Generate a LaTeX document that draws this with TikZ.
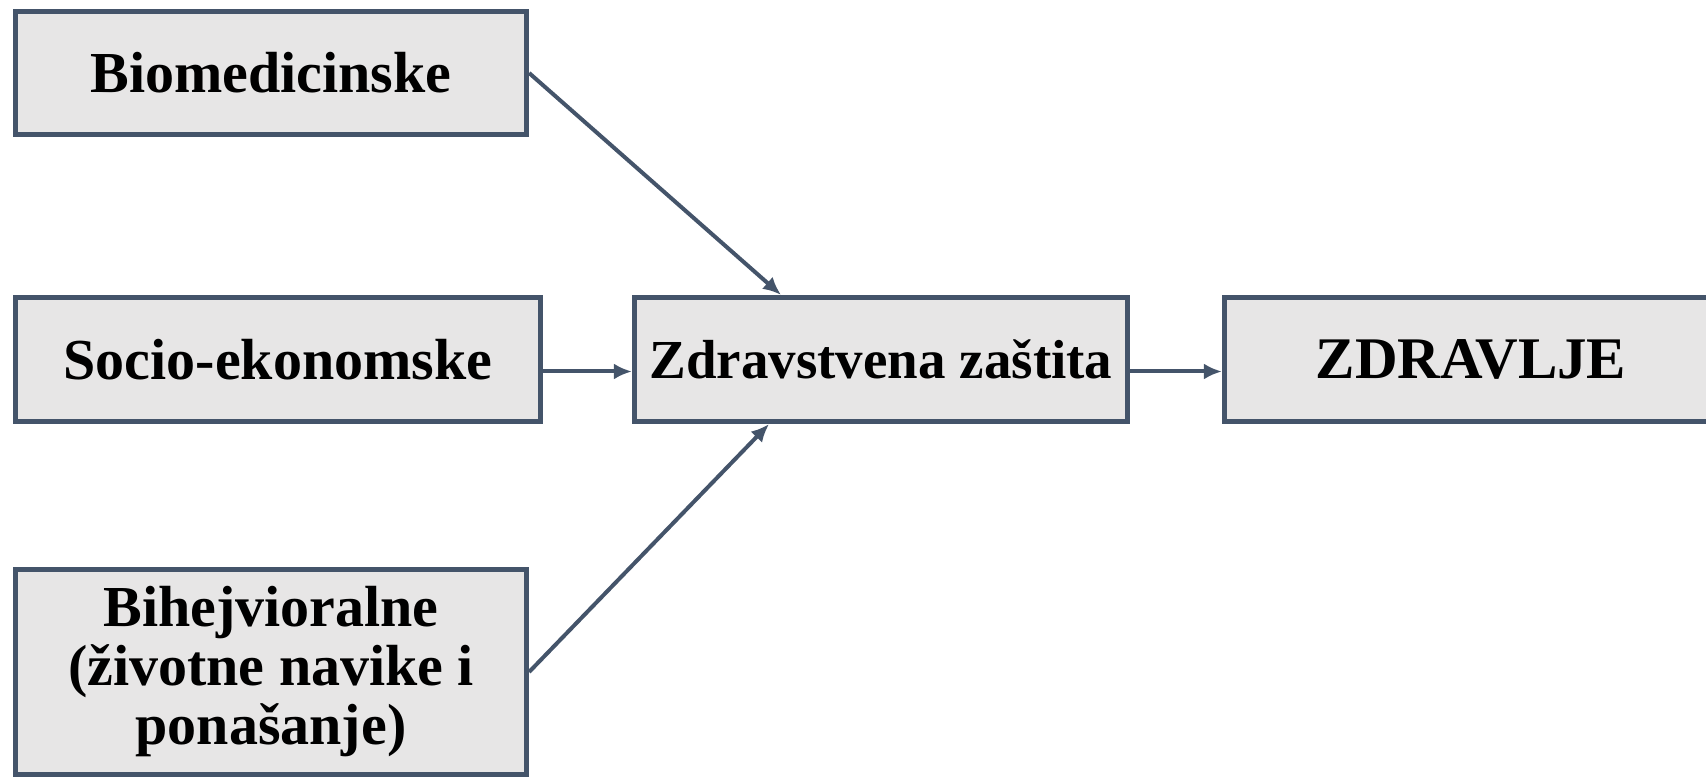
\documentclass[tikz,border=0pt]{standalone}
\usepackage{fontspec}
\setmainfont{Liberation Serif}
\usetikzlibrary{arrows.meta}
\definecolor{slate}{HTML}{44546A}
\definecolor{boxgray}{HTML}{E7E6E6}

\begin{document}
\begin{tikzpicture}[x=1pt,y=1pt,
  factor/.style={rectangle,draw=slate,fill=boxgray,line width=2.6pt,align=center,
    inner sep=0pt,font=\fontsize{29}{29.5}\selectfont\bfseries},
  link/.style={draw=slate,line width=2pt,-{Latex[length=9pt,width=8pt]}}]
\useasboundingbox (0,0) rectangle (853,390);
\node [factor,minimum width=255.5pt,minimum height=61.5pt] (bio) at (135.5,353.5) {Biomedicinske};
\node [factor,minimum width=262.5pt,minimum height=62pt] (socio) at (139,210.25) {Socio-ekonomske};
\node [factor,minimum width=255.5pt,minimum height=102.5pt] (bih) at (135.5,54) {Bihejvioralne\\(životne navike i\\ponašanje)};
\node [factor,minimum width=246.5pt,minimum height=62pt,font=\fontsize{27.5}{28}\selectfont\bfseries] (zastita) at (440.5,210.25) {Zdravstvena zaštita};
\node [factor,minimum width=246.5pt,minimum height=62pt,font=\fontsize{29.5}{30}\selectfont\bfseries] (zdravlje) at (735.5,210.25) {ZDRAVLJE};
\draw [link] (bio.east) -- ([xshift=-50pt]zastita.north);
\draw [link] ([yshift=-6pt]socio.east) -- ([yshift=-6pt]zastita.west);
\draw [link] (bih.east) -- ([xshift=-56pt]zastita.south);
\draw [link] ([yshift=-6pt]zastita.east) -- ([yshift=-6pt]zdravlje.west);
\end{tikzpicture}
\end{document}
